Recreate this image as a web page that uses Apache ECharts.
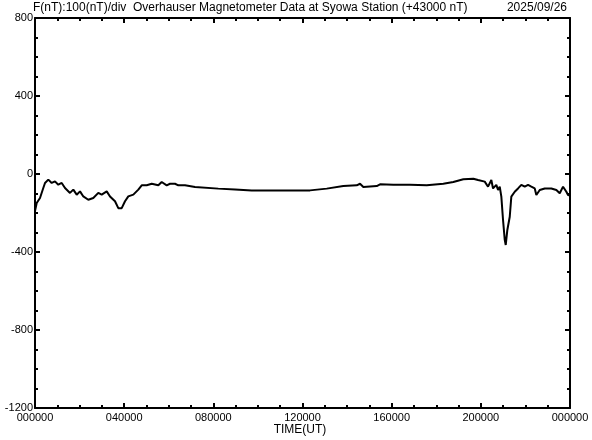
<!DOCTYPE html>
<html>
<head>
<meta charset="utf-8">
<script src="https://cdn.jsdelivr.net/npm/echarts@6/dist/echarts.min.js"></script>
<style>html,body{margin:0;padding:0;background:#fff}#c{width:592px;height:440px}</style>
</head>
<body>
<div id="c"></div>
<script>
// Time in hours UT (0-24), F deviation in nT (offset +43000 nT)
var timesH = [0.000,0.076,0.224,0.372,0.449,0.597,0.749,0.897,1.045,1.198,1.270,1.346,1.422,1.570,1.718,1.871,2.019,2.167,2.391,2.467,2.615,2.840,2.992,3.217,3.365,3.589,3.737,3.890,4.038,4.186,4.410,4.635,4.787,5.011,5.236,5.532,5.684,5.908,6.057,6.281,6.429,6.729,7.178,8.223,8.973,9.722,10.467,11.216,11.965,12.337,13.087,13.831,14.433,14.580,14.729,15.330,15.478,16.074,16.823,17.573,18.317,18.766,19.215,19.663,19.874,20.175,20.323,20.471,20.547,20.695,20.772,20.848,20.920,20.996,21.073,21.117,21.189,21.297,21.368,21.521,21.669,21.817,21.970,22.118,22.266,22.418,22.490,22.643,22.867,23.163,23.388,23.540,23.688,23.836,23.912,24.000];
var fValues = [-190,-149,-123,-72,-46,-29,-46,-38,-55,-46,-38,-72,-63,-97,-80,-106,-89,-115,-132,-140,-123,-97,-106,-89,-115,-140,-175,-175,-140,-115,-106,-80,-58,-58,-50,-58,-41,-58,-50,-50,-58,-58,-67,-75,-79,-84,-84,-84,-84,-84,-75,-62,-58,-50,-67,-62,-53,-55,-55,-58,-50,-41,-27,-24,-31,-39,-65,-31,-74,-56,-82,-65,-116,-236,-338,-364,-287,-219,-116,-91,-74,-56,-65,-56,-65,-74,-108,-82,-74,-74,-82,-99,-65,-91,-108,-110];
var yTicks = [-1200,-800,-400,0,400,800];
var xTickHours = [0,4,8,12,16,20,24];
var titleText = 'F(nT):100(nT)/div  Overhauser Magnetometer Data at Syowa Station (+43000 nT)';
var dateText = '2025/09/26';
var xName = 'TIME(UT)';

var data = timesH.map(function(t,i){return [t,fValues[i]];});
var font = 'Liberation Sans';
function xfmt(v){var h=Math.round(v)%24;return (h<10?'0':'')+h+'0000';}
function yfmt(v){return String(v);}

var chart = echarts.init(document.getElementById('c'));
function axisCommon(){ return {
  axisLine:{show:true,onZero:false,lineStyle:{color:'#000',width:2}},
  axisTick:{show:true,inside:true,length:5,lineStyle:{color:'#000',width:2}},
  minorTick:{show:true,splitNumber:4,length:3,lineStyle:{color:'#000',width:2}},
  splitLine:{show:false}
};}
chart.setOption({
  animation:false,
  backgroundColor:'#fff',
  grid:{left:35,right:22,top:18,bottom:32},
  xAxis:[
    Object.assign({type:'value',min:0,max:24,interval:4,position:'bottom',
      axisLabel:{color:'#000',fontFamily:font,fontSize:11,margin:4,formatter:xfmt}},axisCommon()),
    Object.assign({type:'value',min:0,max:24,interval:4,position:'top',
      axisLabel:{show:false}},axisCommon())
  ],
  yAxis:[
    Object.assign({type:'value',min:-1200,max:800,interval:400,position:'left',
      axisLabel:{color:'#000',fontFamily:font,fontSize:11,margin:2,formatter:yfmt}},axisCommon()),
    Object.assign({type:'value',min:-1200,max:800,interval:400,position:'right',
      axisLabel:{show:false}},axisCommon())
  ],
  series:[{type:'line',data:data,showSymbol:false,symbol:'none',
    lineStyle:{color:'#000',width:2},xAxisIndex:0,yAxisIndex:0}],
  graphic:[
    {type:'text',x:33,y:2,style:{text:titleText,fill:'#000',font:'12px '+font,align:'left',verticalAlign:'top'}},
    {type:'text',x:567,y:2,style:{text:dateText,fill:'#000',font:'12px '+font,align:'right',verticalAlign:'top'}},
    {type:'text',x:300,y:424,style:{text:xName,fill:'#000',font:'12px '+font,align:'center',verticalAlign:'top'}}
  ]
});
</script>
</body>
</html>
